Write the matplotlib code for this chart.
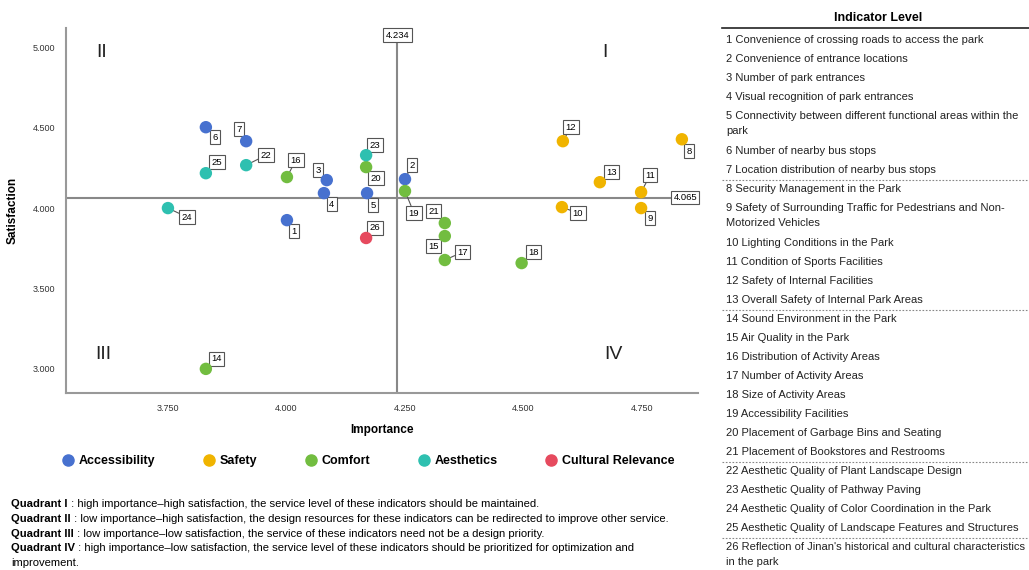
import matplotlib.pyplot as plt
from matplotlib.lines import Line2D

plt.rcParams['font.family'] = ['Liberation Sans', 'DejaVu Sans']

# indicator data
ids = list(range(1, 27))
importance = [4.001, 4.250, 4.085, 4.079, 4.170, 3.830, 3.915,
              4.834, 4.748, 4.581, 4.748, 4.583, 4.661,
              3.830, 4.334, 4.001, 4.334, 4.496, 4.250, 4.168, 4.334,
              3.915, 4.168, 3.750, 3.830,
              4.168]
satisfaction = [3.925, 4.180, 4.174, 4.093, 4.093, 4.503, 4.416,
                4.428, 4.000, 4.006, 4.099, 4.416, 4.161,
                3.000, 3.826, 4.193, 3.677, 3.658, 4.106, 4.255, 3.907,
                4.267, 4.329, 4.000, 4.217,
                3.814]
groups = ['Accessibility'] * 7 + ['Safety'] * 6 + ['Comfort'] * 8 + ['Aesthetics'] * 4 + ['Cultural Relevance']
categories = ['Accessibility', 'Safety', 'Comfort', 'Aesthetics', 'Cultural Relevance']
mean_importance = 4.234
mean_satisfaction = 4.065

indicator_names = [
    "Convenience of crossing roads to access the park",
    "Convenience of entrance locations",
    "Number of park entrances",
    "Visual recognition of park entrances",
    "Connectivity between different functional areas within the\npark",
    "Number of nearby bus stops",
    "Location distribution of nearby bus stops",
    "Security Management in the Park",
    "Safety of Surrounding Traffic for Pedestrians and Non-\nMotorized Vehicles",
    "Lighting Conditions in the Park",
    "Condition of Sports Facilities",
    "Safety of Internal Facilities",
    "Overall Safety of Internal Park Areas",
    "Sound Environment in the Park",
    "Air Quality in the Park",
    "Distribution of Activity Areas",
    "Number of Activity Areas",
    "Size of Activity Areas",
    "Accessibility Facilities",
    "Placement of Garbage Bins and Seating",
    "Placement of Bookstores and Restrooms",
    "Aesthetic Quality of Plant Landscape Design",
    "Aesthetic Quality of Pathway Paving",
    "Aesthetic Quality of Color Coordination in the Park",
    "Aesthetic Quality of Landscape Features and Structures",
    "Reflection of Jinan's historical and cultural characteristics\nin the park",
]

quadrant_notes = [
    ("Quadrant I", " : high importance\u2013high satisfaction, the service level of these indicators should be maintained."),
    ("Quadrant II", " : low importance\u2013high satisfaction, the design resources for these indicators can be redirected to improve other service."),
    ("Quadrant III", " : low importance\u2013low satisfaction, the service of these indicators need not be a design priority."),
    ("Quadrant IV", " : high importance\u2013low satisfaction, the service level of these indicators should be prioritized for optimization and"),
]

colors = {'Accessibility': '#4771cf', 'Safety': '#f0b400', 'Comfort': '#72bd40',
          'Aesthetics': '#2ec0b0', 'Cultural Relevance': '#e64a5e'}

# label offsets in pixels (dx right, dy down)
offsets = {1: (7, 11), 2: (7, -14), 3: (-9, -10), 4: (8, 11), 5: (6, 12), 6: (9, 10),
           7: (-7, -12), 8: (7, 12), 9: (9, 10), 10: (16, 6), 11: (9, -17), 12: (8, -14),
           13: (12, -10), 14: (11, -10), 15: (-11, 10), 16: (9, -17), 17: (18, -8),
           18: (12, -11), 19: (9, 22), 20: (10, 11), 21: (-11, -12), 22: (20, -10),
           23: (9, -10), 24: (19, 9), 25: (11, -11), 26: (9, -10)}

fig = plt.figure(figsize=(10.29, 5.70), dpi=100)
ax = fig.add_axes([66 / 1029, 1 - 393 / 570, (698 - 66) / 1029, (393 - 28) / 570])
ax.set_xlim(3.535, 4.868)
ax.set_ylim(2.85, 5.12)

for s in ['top', 'right']:
    ax.spines[s].set_visible(False)
for s in ['left', 'bottom']:
    ax.spines[s].set_color('#999999')
    ax.spines[s].set_linewidth(1.5)

ax.axvline(mean_importance, color='#888888', lw=1.5, zorder=1)
ax.axhline(mean_satisfaction, color='#888888', lw=1.5, zorder=1)

box = dict(boxstyle='square,pad=0.25', fc='white', ec='#555555', lw=0.8)
ax.text(mean_importance, 5.075, f"{mean_importance:.3f}", ha='center', va='center',
        fontsize=6.8, bbox=box, zorder=4)
ax.text(4.841, mean_satisfaction, f"{mean_satisfaction:.3f}", ha='center', va='center',
        fontsize=6.8, bbox=box, zorder=4)

for i, x, y in zip(ids, importance, satisfaction):
    dx, dy = offsets[i]
    ax.annotate(str(i), xy=(x, y), xytext=(dx * 0.72, -dy * 0.72), textcoords='offset points',
                ha='center', va='center', fontsize=6.8, bbox=box, zorder=2,
                arrowprops=dict(arrowstyle='-', color='#555555', lw=0.8, shrinkA=0, shrinkB=0))

for c in categories:
    xs = [x for x, g in zip(importance, groups) if g == c]
    ys = [y for y, g in zip(satisfaction, groups) if g == c]
    ax.scatter(xs, ys, s=80, color=colors[c], edgecolors='none', zorder=3)

for lab, x, y in [('II', 3.611, 4.969), ('I', 4.672, 4.969), ('III', 3.613, 3.087), ('IV', 4.689, 3.087)]:
    ax.text(x, y, lab, fontsize=14, ha='center', va='center', color='#222222')

ax.set_xticks([3.75, 4.0, 4.25, 4.5, 4.75])
ax.set_yticks([3.0, 3.5, 4.0, 4.5, 5.0])
ax.xaxis.set_major_formatter(lambda v, p: f"{v:.3f}")
ax.yaxis.set_major_formatter(lambda v, p: f"{v:.3f}")
ax.tick_params(length=0, labelsize=6.5, colors='#333333', pad=8)
ax.set_xlabel("Importance", fontsize=8.5, fontweight='bold', labelpad=8)
ax.set_ylabel("Satisfaction", fontsize=8.5, fontweight='bold', labelpad=10)

handles = [Line2D([], [], marker='o', ls='', color=colors[c], markersize=8) for c in categories]
fig.legend(handles, categories, loc='center', bbox_to_anchor=(368 / 1029, 1 - 461 / 570), ncol=5,
           frameon=False, prop={'weight': 'bold', 'size': 9}, handletextpad=0.4,
           columnspacing=3.75, handlelength=1.0)

# quadrant notes
ypix = 504
for bold, rest in quadrant_notes:
    t = fig.text(11 / 1029, 1 - ypix / 570, bold, fontsize=8.1, fontweight='bold', va='center')
    ax.annotate(rest, xy=(1, 0.5), xycoords=t, va='center', ha='left', fontsize=8.1,
                annotation_clip=False)
    ypix += 14.8
fig.text(11 / 1029, 1 - ypix / 570, "improvement.", fontsize=8.1, va='center')

# indicator table
fig.text(878 / 1029, 1 - 18 / 570, "Indicator Level", fontsize=9, fontweight='bold', ha='center', va='center')
fig.add_artist(Line2D([722 / 1029, 1.0], [1 - 28 / 570, 1 - 28 / 570], color='#222222', lw=1.2))
ypix = 40
for i, name, g in zip(ids, indicator_names, groups):
    lines = name.split("\n")
    fig.text(726 / 1029, 1 - ypix / 570, f"{i} {lines[0]}", fontsize=8, va='center', color='#222222')
    for k, extra in enumerate(lines[1:], 1):
        fig.text(726 / 1029, 1 - (ypix + 15 * k) / 570, extra, fontsize=8, va='center', color='#222222')
    step = 19 + 16 * (len(lines) - 1)
    if i < len(ids) and groups[i] != g:
        ysep = 1 - (ypix + step - 9.5) / 570
        fig.add_artist(Line2D([722 / 1029, 1.0], [ysep, ysep], color='#888888', lw=0.8, ls=(0, (1.5, 1.5))))
    ypix += step

fig.savefig("out.png", dpi=100)
